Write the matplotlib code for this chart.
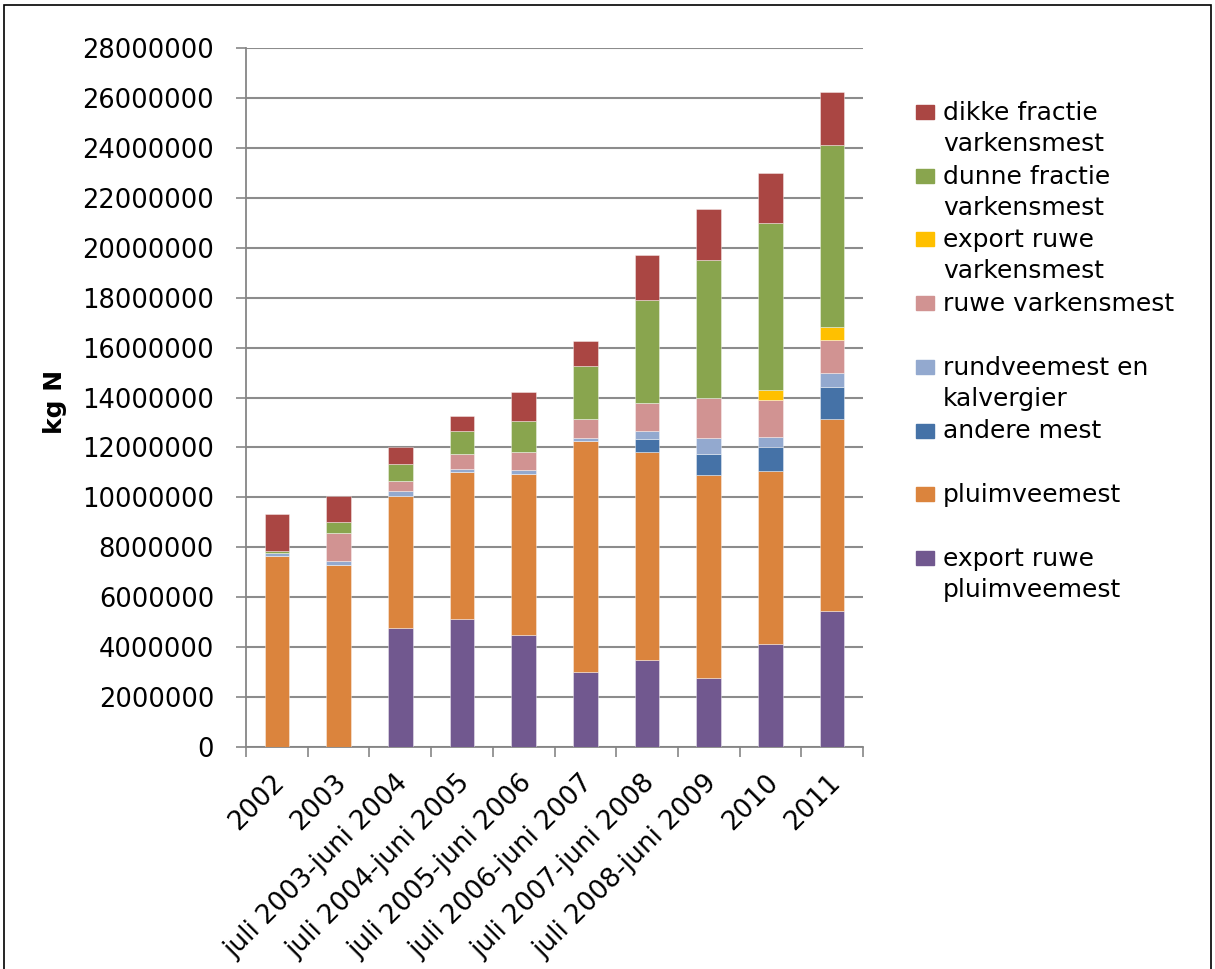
import matplotlib.pyplot as plt
import numpy as np
from matplotlib.patches import Rectangle
from matplotlib.ticker import FixedLocator, NullFormatter
from matplotlib.transforms import ScaledTranslation

OUT = "out.png"

PERIODS = [
    "2002", "2003", "juli 2003-juni 2004", "juli 2004-juni 2005",
    "juli 2005-juni 2006", "juli 2006-juni 2007", "juli 2007-juni 2008",
    "juli 2008-juni 2009", "2010", "2011",
]

# stacked bottom -> top, values in kg N
export_ruwe_pluimveemest = [0, 0, 4770000, 5110000, 4500000, 3020000, 3480000, 2760000, 4130000, 5450000]
pluimveemest = [7640000, 7310000, 5300000, 5890000, 6450000, 9230000, 8340000, 8120000, 6910000, 7690000]
andere_mest = [0, 0, 0, 0, 0, 0, 510000, 860000, 960000, 1270000]
rundveemest = [120000, 140000, 200000, 130000, 130000, 130000, 330000, 620000, 430000, 580000]
ruwe_varkensmest = [0, 1120000, 400000, 590000, 750000, 770000, 1130000, 1610000, 1470000, 1320000]
export_ruwe_varkensmest = [0, 0, 0, 0, 0, 0, 0, 0, 390000, 500000]
dunne_fractie = [100000, 450000, 680000, 950000, 1210000, 2110000, 4130000, 5520000, 6700000, 7300000]
dikke_fractie = [1470000, 1030000, 670000, 600000, 1190000, 1000000, 1770000, 2060000, 2000000, 2140000]

SERIES = [
    ("export ruwe\npluimveemest", export_ruwe_pluimveemest, "#71588F"),
    ("pluimveemest", pluimveemest, "#DB843D"),
    ("andere mest", andere_mest, "#4572A7"),
    ("rundveemest en\nkalvergier", rundveemest, "#93A9CF"),
    ("ruwe varkensmest", ruwe_varkensmest, "#D19392"),
    ("export ruwe\nvarkensmest", export_ruwe_varkensmest, "#FFC000"),
    ("dunne fractie\nvarkensmest", dunne_fractie, "#89A54E"),
    ("dikke fractie\nvarkensmest", dikke_fractie, "#AA4643"),
]

W, H = 1215, 969
fig = plt.figure(figsize=(W / 100, H / 100), dpi=100)
ax = fig.add_axes([246 / W, 1 - 747 / H, 617 / W, 699 / H])

x = np.arange(len(PERIODS))
bottom = np.zeros(len(PERIODS))
for label, vals, color in SERIES:
    vals = np.array(vals, dtype=float)
    ax.bar(x, vals, width=0.4, bottom=bottom, color=color,
           edgecolor=(1, 1, 1, 0.45), linewidth=0.6, zorder=3)
    bottom += vals

ax.set_xlim(-0.5, len(PERIODS) - 0.5)
ax.set_ylim(0, 28000000)
ax.set_yticks(np.arange(0, 28000001, 2000000))
ax.set_yticklabels([f"{v:d}" for v in range(0, 28000001, 2000000)])
ax.yaxis.grid(True, color="#8c8c8c", linewidth=1.5, zorder=0)
ax.set_axisbelow(True)

ax.set_xticks(x)
ax.set_xticklabels(PERIODS, rotation=45, ha="right", rotation_mode="anchor")
ax.xaxis.set_minor_locator(FixedLocator(np.arange(-0.5, len(PERIODS), 1.0)))
ax.xaxis.set_minor_formatter(NullFormatter())
ax.tick_params(axis="x", which="major", length=0, pad=20, labelsize=19)
ax.tick_params(axis="x", which="minor", length=7, color="#868686", width=1.2)
ax.tick_params(axis="y", length=7, color="#868686", width=1.2, pad=16, labelsize=18.5)

# nudge rotated labels so their ends sit like the original
shift = ScaledTranslation(-0.05, 0.05, fig.dpi_scale_trans)
for lbl in ax.get_xticklabels():
    lbl.set_transform(lbl.get_transform() + shift)

for side in ("top", "right"):
    ax.spines[side].set_visible(False)
for side in ("left", "bottom"):
    ax.spines[side].set_color("#868686")
    ax.spines[side].set_linewidth(1.3)

fig.text(55 / W, 1 - 402 / H, "kg N", rotation=90, fontsize=18,
         fontweight="bold", ha="center", va="center")

# legend, drawn top -> bottom in reverse stack order
step = 63.7
for i, (label, vals, color) in enumerate(reversed(SERIES)):
    top = 105 + i * step
    fig.add_artist(Rectangle((916 / W, 1 - (top + 14) / H), 18 / W, 14 / H,
                             transform=fig.transFigure, color=color))
    fig.text(943 / W, 1 - (top - 4) / H, label, fontsize=18, ha="left",
             va="top", linespacing=1.37)

fig.add_artist(Rectangle((4 / W, -0.01), 1207 / W, 1 - 5 / H + 0.01,
                         transform=fig.transFigure, fill=False,
                         edgecolor="black", linewidth=1.2))

fig.savefig(OUT, dpi=100)
